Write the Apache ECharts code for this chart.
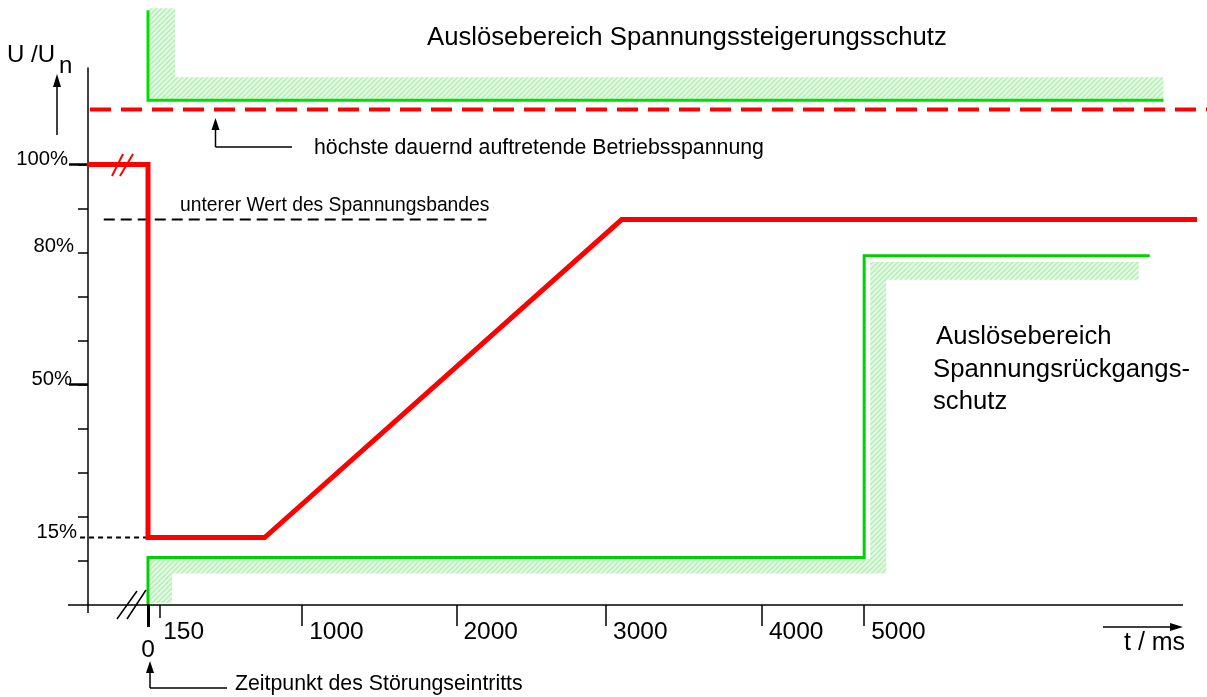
<!DOCTYPE html>
<html>
<head>
<meta charset="utf-8">
<script src="https://cdn.jsdelivr.net/npm/echarts@6.0.0/dist/echarts.min.js"></script>
<style>
  body { margin: 0; background: #fff; }
  #main { width: 1207px; height: 697px; }
</style>
</head>
<body>
<div id="main"></div>
<script>
// time axis of the sketch is not to scale: tick times and where they sit (in 1000 ms steps)
var tickMs = [0, 150, 1000, 2000, 3000, 4000, 5000];
var tickSlot = [0, 0.08, 1.01, 2.02, 3.0, 4.02, 4.69];
var yLabelValues = [15, 50, 80, 100];
var yTickValues = [10, 20, 30, 40, 50, 60, 70, 80, 90, 100];

// FRT limit curve (red)
var frtT = [-400, 0, 0, 775, 3100, 7180];
var frtU = [100, 100, 15.3, 15.3, 87.5, 87.5];
// overvoltage trip boundary (green, top)
var overT = [0, 0, 6960];
var overU = [135, 114.6, 114.6];
// undervoltage trip boundary (green, bottom)
var underT = [0, 0, 5000, 5000, 6870];
var underU = [0, 10.8, 10.8, 79.3, 79.3];
// highest continuous operating voltage (red dashed)
var maxOpT = [-380, 7300];
var maxOpU = [112.5, 112.5];
// lower value of the voltage band (black dashed)
var bandT = [-290, 2200];
var bandU = [87.5, 87.5];
// 15 % reference (black dotted)
var dipT = [-445, 0];
var dipU = [15.3, 15.3];

function toSlot(t) {
  if (t <= 0) return t / 1000;
  for (var i = 1; i < tickMs.length; i++) {
    if (t <= tickMs[i]) {
      var f = (t - tickMs[i - 1]) / (tickMs[i] - tickMs[i - 1]);
      return tickSlot[i - 1] + f * (tickSlot[i] - tickSlot[i - 1]);
    }
  }
  return tickSlot[tickSlot.length - 1] + (t - tickMs[tickMs.length - 1]) / 1000;
}
function msLabel(v) {
  for (var i = 0; i < tickSlot.length; i++) {
    if (Math.abs(tickSlot[i] - v) < 1e-6) return String(tickMs[i]);
  }
  return '';
}
function pts(ts, us) {
  var out = [];
  for (var i = 0; i < ts.length; i++) out.push([toSlot(ts[i]), us[i]]);
  return out;
}

// hatch pattern for the trip areas
var hatch = document.createElement('canvas');
hatch.width = 5;
hatch.height = 5;
var hc = hatch.getContext('2d');
hc.fillStyle = '#e3f9e3';
hc.fillRect(0, 0, 5, 5);
hc.strokeStyle = '#b2eeb2';
hc.lineWidth = 1.3;
hc.beginPath();
hc.moveTo(0, 5); hc.lineTo(5, 0);
hc.moveTo(-1, 1); hc.lineTo(1, -1);
hc.moveTo(4, 6); hc.lineTo(6, 4);
hc.stroke();
var hatchFill = { image: hatch, repeat: 'repeat' };

var FONT = '"Liberation Sans", Arial, sans-serif';
var X_MIN = -0.524, X_MAX = 6.935;

var chart = echarts.init(document.getElementById('main'), null, { renderer: 'canvas' });

function txt(x, y, s, size) {
  return {
    type: 'text', x: x, y: y, z: 50,
    style: { text: s, fontSize: size, fontFamily: FONT, fill: '#000', verticalAlign: 'middle', textVerticalAlign: 'middle' }
  };
}
function seg(x1, y1, x2, y2, color, w) {
  return {
    type: 'line', z: 50,
    shape: { x1: x1, y1: y1, x2: x2, y2: y2 },
    style: { stroke: color || '#000', lineWidth: w || 1.5 }
  };
}
function head(points) {
  return { type: 'polygon', z: 50, shape: { points: points }, style: { fill: '#000' } };
}

function lineSeries(data, color, width, type, z) {
  return {
    type: 'line',
    data: data,
    symbol: 'none',
    clip: false,
    silent: true,
    z: z || 3,
    lineStyle: { color: color, width: width, type: type || 'solid', join: 'miter', cap: 'butt' }
  };
}

var option = {
  animation: false,
  backgroundColor: '#fff',
  grid: { left: 68, right: 0, top: 68, bottom: 92 },
  xAxis: [{
    type: 'value', position: 'bottom', min: X_MIN, max: X_MAX,
    axisLine: { show: false, onZero: false },
    axisTick: { show: true, length: 21, customValues: tickSlot.slice(2), lineStyle: { color: '#000', width: 1.5 } },
    axisLabel: {
      customValues: tickSlot.slice(2), formatter: msLabel, align: 'left', verticalAlign: 'middle',
      margin: 27, padding: [0, 0, 0, 7], color: '#000', fontSize: 24.5, fontFamily: FONT
    },
    splitLine: { show: false }
  }, {
    type: 'value', position: 'bottom', min: X_MIN, max: X_MAX,
    axisLine: { show: false, onZero: false },
    axisTick: { show: true, length: 22, customValues: [tickSlot[0]], lineStyle: { color: '#000', width: 3 } },
    axisLabel: {
      customValues: [tickSlot[0]], formatter: msLabel, align: 'center', verticalAlign: 'middle',
      margin: 45, color: '#000', fontSize: 24.5, fontFamily: FONT
    },
    splitLine: { show: false }
  }, {
    type: 'value', position: 'bottom', min: X_MIN, max: X_MAX,
    axisLine: { show: false, onZero: false },
    axisTick: { show: true, length: 13, customValues: [tickSlot[1]], lineStyle: { color: '#000', width: 1.5 } },
    axisLabel: {
      customValues: [tickSlot[1]], formatter: msLabel, align: 'left', verticalAlign: 'middle',
      margin: 27, padding: [0, 0, 0, 3], color: '#000', fontSize: 24.5, fontFamily: FONT
    },
    splitLine: { show: false }
  }],
  yAxis: [{
    type: 'value', position: 'left', min: 0, max: 121.9, offset: -20,
    axisLine: { show: true, onZero: false, lineStyle: { color: '#000', width: 1.5 } },
    axisTick: { show: true, length: 10, customValues: yTickValues, lineStyle: { color: '#000', width: 1.5 } },
    axisLabel: {
      customValues: yLabelValues, margin: 11, color: '#000', fontSize: 20.3, fontFamily: FONT,
      formatter: function (v) { return '{p' + v + '|' + v + '%}'; },
      rich: {
        p100: { fontSize: 20.3, fontFamily: FONT, color: '#000', padding: [0, 9, 10, 0] },
        p80: { fontSize: 20.3, fontFamily: FONT, color: '#000', padding: [0, 3, 12, 0] },
        p50: { fontSize: 20.3, fontFamily: FONT, color: '#000', padding: [0, 5, 10, 0] },
        p15: { fontSize: 20.3, fontFamily: FONT, color: '#000', padding: [0, 0, 14, 0] }
      }
    },
    splitLine: { show: false }
  }, {
    type: 'value', position: 'left', min: 0, max: 121.9, offset: -20,
    axisLine: { show: false, onZero: false },
    axisTick: { show: true, length: 19, customValues: [50, 100], lineStyle: { color: '#000', width: 2.5 } },
    axisLabel: { show: false },
    splitLine: { show: false }
  }],
  series: [
    {
      // hatched trip zones along the green boundaries
      type: 'custom',
      coordinateSystem: 'cartesian2d',
      clip: false,
      silent: true,
      z: 1,
      data: [[0, 0], [0, 0]],
      renderItem: function (params, api) {
        var p;
        if (params.dataIndex === 0) {
          p = pts(overT, overU).map(function (d) { return api.coord(d); });
          return {
            type: 'polygon',
            shape: { points: [
              [p[0][0] + 1.5, p[0][1] - 2], [p[1][0] + 1.5, p[1][1] - 1.5], [p[2][0], p[1][1] - 1.5],
              [p[2][0], p[1][1] - 23], [p[1][0] + 27, p[1][1] - 23], [p[1][0] + 27, p[0][1] - 2]
            ] },
            style: { fill: hatchFill }
          };
        }
        p = pts(underT, underU).map(function (d) { return api.coord(d); });
        return {
          type: 'polygon',
          shape: { points: [
            [p[0][0] + 1.5, p[0][1] - 2], [p[1][0] + 1.5, p[1][1] + 1.5], [p[2][0] + 6, p[1][1] + 1.5],
            [p[3][0] + 6, p[3][1] + 6], [p[4][0] - 11, p[3][1] + 6], [p[4][0] - 11, p[3][1] + 24],
            [p[3][0] + 22, p[3][1] + 24], [p[2][0] + 22, p[1][1] + 16], [p[1][0] + 24, p[1][1] + 16],
            [p[1][0] + 24, p[0][1] - 2]
          ] },
          style: { fill: hatchFill }
        };
      }
    },
    lineSeries(pts(overT, overU), '#00e000', 3, 'solid', 4),
    lineSeries(pts(underT, underU), '#00d000', 3, 'solid', 4),
    lineSeries(pts(maxOpT, maxOpU), '#ff0000', 4, [21, 10], 5),
    lineSeries(pts(bandT, bandU), '#000', 2, [11, 6], 5),
    lineSeries(pts(dipT, dipU), '#000', 2, [5, 4], 5),
    lineSeries(pts(frtT, frtU), '#ff0000', 5, 'solid', 6)
  ],
  graphic: [
    txt(427, 37.7, 'Auslösebereich Spannungssteigerungsschutz', 25.7),
    txt(936, 337, 'Auslösebereich', 25.7),
    txt(933, 370, 'Spannungsrückgangs-', 25.7),
    txt(933, 401.7, 'schutz', 25.7),
    txt(314, 148.6, 'höchste dauernd auftretende Betriebsspannung', 21.3),
    txt(180, 206, 'unterer Wert des Spannungsbandes', 19.3),
    txt(235, 684.5, 'Zeitpunkt des Störungseintritts', 21.3),
    txt(7, 55, 'U /U', 24),
    txt(59, 66.5, 'n', 24),
    txt(1124, 643, 't / ms', 25),
    // x axis line (the axis reaches less far right than the curves)
    seg(68, 605, 1183, 605),
    seg(88, 605, 88, 613),
    // arrows
    seg(57, 135, 57, 85), head([[57, 74], [53, 87], [61, 87]]),
    seg(215.5, 147, 215.5, 128), seg(215.5, 147, 292, 147), head([[215.5, 118], [211.5, 130], [219.5, 130]]),
    seg(150, 688, 150, 672), seg(150, 688, 227, 688), head([[150, 661], [146, 673], [154, 673]]),
    seg(1103, 627, 1172, 627), head([[1183, 627], [1170, 623], [1170, 631]]),
    // axis break marks
    seg(112, 176, 123, 154, '#ff0000', 2), seg(120, 176, 133, 154, '#ff0000', 2),
    seg(117, 619, 137, 591), seg(127, 619, 146, 590)
  ]
};

chart.setOption(option);
</script>
</body>
</html>
